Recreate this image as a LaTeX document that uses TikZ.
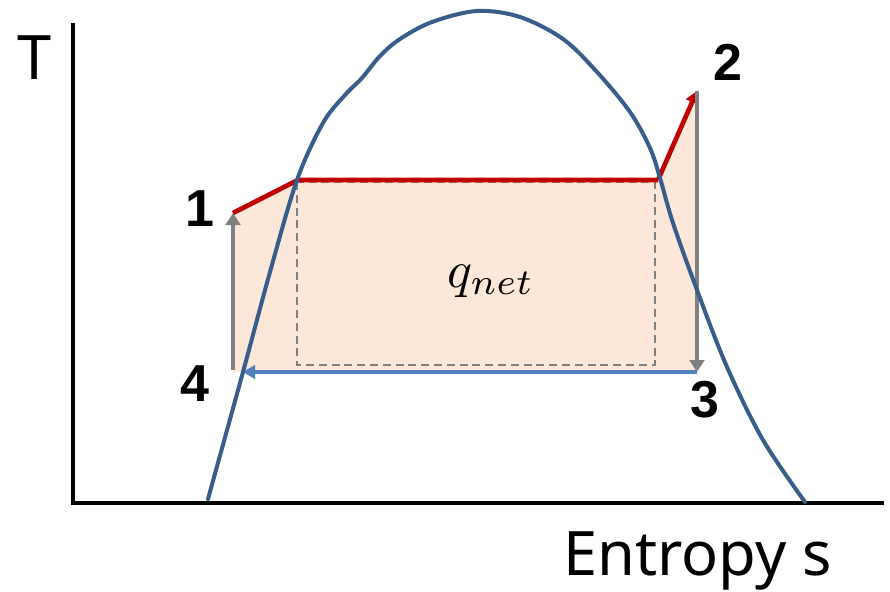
\documentclass[tikz,border=0pt]{standalone}
\usepackage{graphicx}
\usepackage{fontspec}
\setmainfont{Noto Sans}
\newfontfamily\numfont{Liberation Sans Bold}
\usetikzlibrary{arrows.meta}
\definecolor{dome}{HTML}{385D8A}
\definecolor{cred}{HTML}{C00000}
\definecolor{cgray}{HTML}{808080}
\definecolor{cblue}{HTML}{4F81BD}
\definecolor{cfill}{HTML}{FCE7D8}
\tikzset{
  axisline/.style={line width=2.4pt, black},
  domeline/.style={line width=3pt, dome, line cap=round},
  heatline/.style={line width=3.5pt, cred},
  grayarrow/.style={line width=3.4pt, cgray, -{Triangle[width=11pt,length=9pt]}},
  bluearrow/.style={line width=3pt, cblue, -{Triangle[width=10pt,length=9pt]}},
  dashbox/.style={line width=1.9pt, cgray, dash pattern=on 6pt off 3.6pt},
  ptlabel/.style={font=\numfont\fontsize{39}{41}\selectfont, inner sep=0pt},
  axlabel/.style={font=\fontsize{46}{50}\selectfont, inner sep=0pt}
}
\begin{document}
\begin{tikzpicture}[x=0.75pt, y=-0.75pt]
\useasboundingbox (0,0) rectangle (890,592);
% cycle points
\coordinate (p1) at (233,213);
\coordinate (pa) at (298,180);
\coordinate (pb) at (658,180);
\coordinate (p2) at (697,91);
\coordinate (p3) at (697,372);
\coordinate (p4) at (233,372);
\coordinate (p4b) at (243,372);
\coordinate (p4s) at (233,370);
% fill
\fill[cfill] (p1) -- (pa) -- (pb) -- (p2) -- (p3) -- (p4) -- cycle;
% dashed rectangle
\draw[dashbox] (297,182) rectangle (655,365);
% axes
\coordinate (origin) at (73,503);
\coordinate (ytop) at (73,23);
\coordinate (xend) at (884,503);
\draw[axisline] (ytop) -- (origin) -- (xend);
% process lines
\draw[grayarrow] (p4s) -- (p1);
\draw[heatline, line join=round] (p1) -- (pa) -- (pb);
\draw[heatline, -{Triangle[width=10pt,length=9pt]}] (pb) -- (p2);
\draw[grayarrow] (p2) -- (p3);
\draw[bluearrow] (p3) -- (p4b);
% saturation dome
\draw[domeline] plot[smooth, tension=0.55] coordinates {
 (208,499) (243,372) (270,272) (297,180) (323,123) (345,95) (362,78)
 (380,56) (400,39) (432,22) (477,11) (520,17) (563,39) (597,72)
 (630,112) (650,148) (660,178) (673,223) (697,290) (727,367)
 (763,440) (805,502)};
% labels
\node[ptlabel] (l1) at (200,209) {1};
\node[ptlabel] (l2) at (728,62) {2};
\node[ptlabel] (l3) at (705,400) {3};
\node[ptlabel] (l4) at (195,384) {4};
\node[axlabel] (lT) at (35,58) {T};
\node[axlabel, anchor=base west] (ls) at (563,575) {Entropy s};
\node[inner sep=0pt] (q) at (491,281) {\scalebox{3.9}{$q_{net}$}};
\end{tikzpicture}
\end{document}
